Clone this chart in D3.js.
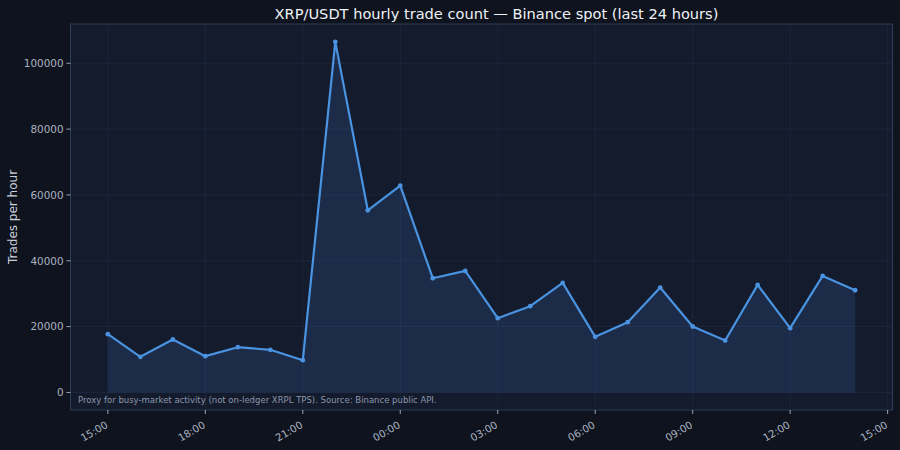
<!DOCTYPE html>
<html><head><meta charset="utf-8">
<script src="https://cdn.jsdelivr.net/npm/d3@7"></script>
<style>
html,body{margin:0;padding:0;background:#0e131d;}
svg{display:block;font-family:"DejaVu Sans",sans-serif;}
</style></head>
<body>
<svg id="c" width="900" height="450"></svg>
<script>
const hours = ["15:00","16:00","17:00","18:00","19:00","20:00","21:00","22:00","23:00","00:00","01:00","02:00","03:00","04:00","05:00","06:00","07:00","08:00","09:00","10:00","11:00","12:00","13:00","14:00"];
const trades = [17700,10830,16080,11020,13750,12950,9800,106500,55330,62820,34700,36930,22560,26200,33280,16900,21340,31870,20030,15780,32680,19520,35410,31050];
const xTickLabels = ["15:00","18:00","21:00","00:00","03:00","06:00","09:00","12:00","15:00"];
const yTicks = [0,20000,40000,60000,80000,100000];

const svg = d3.select("#c");
const L=70.5, R=892.5, T=24, B=410;
const x = d3.scaleLinear().domain([-1.15, 24.15]).range([L,R]);
const y = d3.scaleLinear().domain([-5330, 111930]).range([B,T]);

svg.append("rect").attr("width",900).attr("height",450).attr("fill","#0e131d");
svg.append("rect").attr("x",L).attr("y",T).attr("width",R-L).attr("height",B-T).attr("fill","#131b2d");

const g = svg.append("g");
// grid
const xt = xTickLabels.map((d,i)=>i*3);
g.selectAll(".gx").data(xt).join("line").attr("x1",d=>x(d)).attr("x2",d=>x(d)).attr("y1",T).attr("y2",B)
  .attr("stroke","#1e2a40").attr("stroke-width",0.8);
g.selectAll(".gy").data(yTicks).join("line").attr("y1",d=>y(d)).attr("y2",d=>y(d)).attr("x1",L).attr("x2",R)
  .attr("stroke","#1e2a40").attr("stroke-width",0.8);

const data = trades.map((v,i)=>({i,v}));
g.append("path").datum(data)
  .attr("d", d3.area().x(d=>x(d.i)).y0(y(0)).y1(d=>y(d.v)))
  .attr("fill","#4a90e2").attr("fill-opacity",0.15);
g.append("path").datum(data)
  .attr("d", d3.line().x(d=>x(d.i)).y(d=>y(d.v)))
  .attr("fill","none").attr("stroke","#4a93e0").attr("stroke-width",2.2).attr("stroke-linejoin","round");
g.selectAll(".pt").data(data).join("circle").attr("cx",d=>x(d.i)).attr("cy",d=>y(d.v)).attr("r",2.4).attr("fill","#4a93e0");

// border
svg.append("rect").attr("x",L).attr("y",T).attr("width",R-L).attr("height",B-T).attr("fill","none").attr("stroke","#2f3d57").attr("stroke-width",1);

// y axis
const ya = svg.append("g");
ya.selectAll("line").data(yTicks).join("line").attr("x1",L-4).attr("x2",L).attr("y1",d=>y(d)).attr("y2",d=>y(d)).attr("stroke","#9aa4b5");
ya.selectAll("text").data(yTicks).join("text").attr("x",L-7).attr("y",d=>y(d)).attr("dy","0.36em")
  .attr("text-anchor","end").attr("fill","#aab2c0").attr("font-size",10.4).text(d=>d);

// x axis
const xa = svg.append("g");
xa.selectAll("line").data(xt).join("line").attr("x1",d=>x(d)).attr("x2",d=>x(d)).attr("y1",B).attr("y2",B+4).attr("stroke","#9aa4b5");
xa.selectAll("text").data(xTickLabels).join("text")
  .attr("transform",(d,i)=>`translate(${x(i*3)-3},${B+10.5}) rotate(-30)`)
  .attr("text-anchor","end").attr("dy","0.73em").attr("fill","#aab2c0").attr("font-size",10.2).text(d=>d);

svg.append("text").attr("transform",`translate(16.5,${(T+B)/2}) rotate(-90)`).attr("text-anchor","middle")
  .attr("fill","#c9d0db").attr("font-size",12).text("Trades per hour");
svg.append("text").attr("x",(L+R)/2+15).attr("y",18.5).attr("text-anchor","middle").attr("fill","#eef2f7").attr("font-size",14.6)
  .text("XRP/USDT hourly trade count — Binance spot (last 24 hours)");
svg.append("text").attr("x",78).attr("y",403).attr("fill","#8c96a8").attr("font-size",8.5)
  .text("Proxy for busy-market activity (not on-ledger XRPL TPS). Source: Binance public API.");
</script>
</body></html>
